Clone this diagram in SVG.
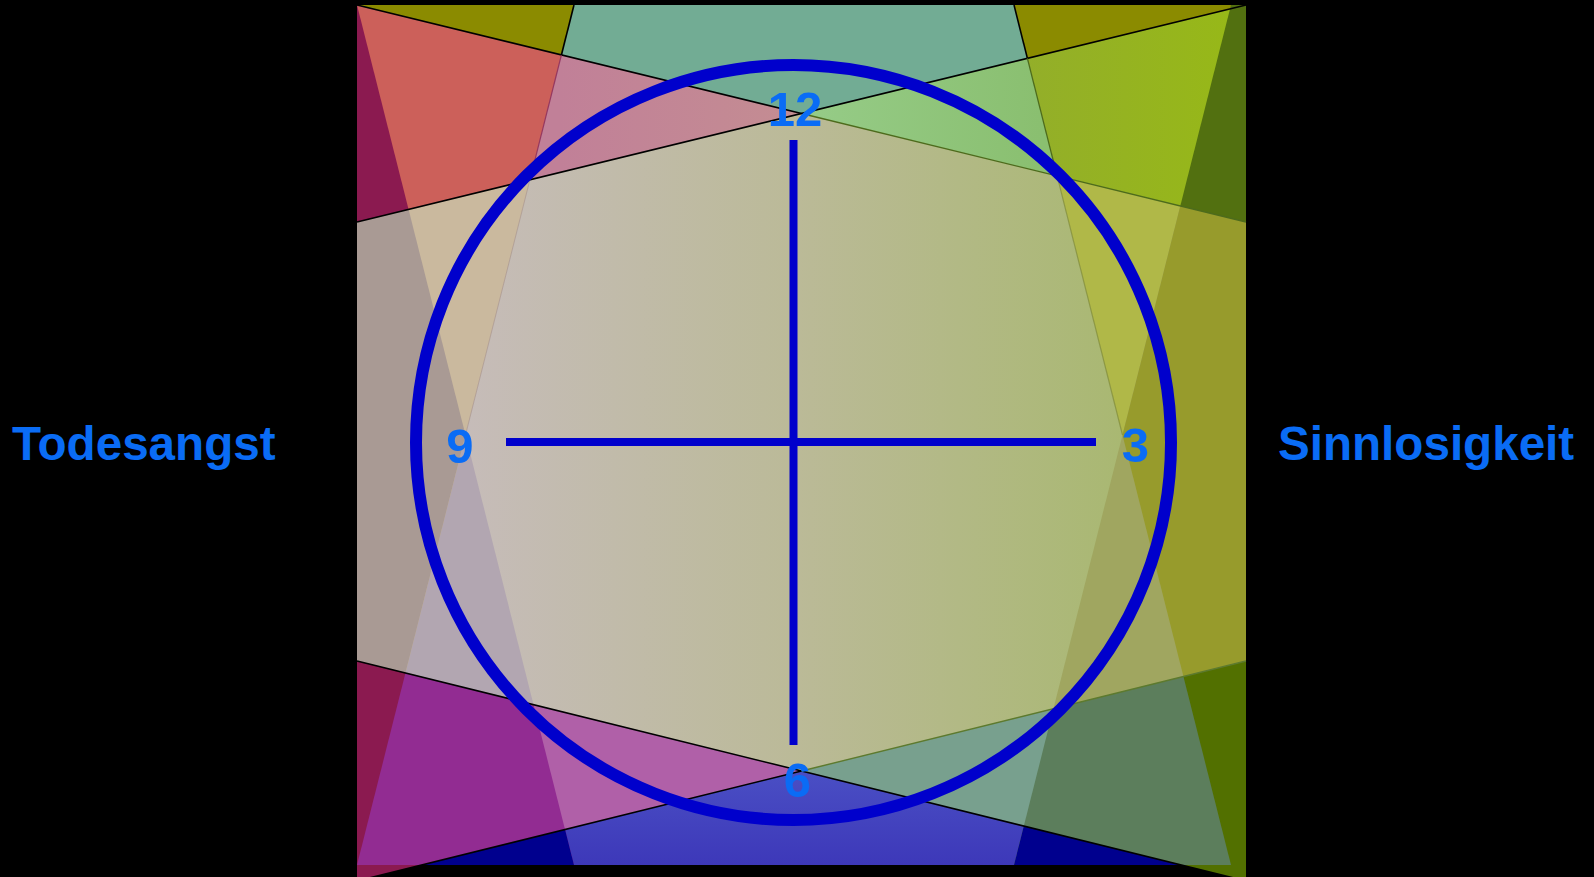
<svg xmlns="http://www.w3.org/2000/svg" width="1594" height="877" viewBox="0 0 1594 877">
<style>
.lbl{font-family:"Liberation Sans",Arial,sans-serif;font-weight:bold;fill:#0a6cf5}
.blk{stroke:#000;stroke-width:1.6;fill:none}
.clk{stroke:#0000cc;fill:none}
</style>
<defs>
<linearGradient id="gBg" gradientUnits="userSpaceOnUse" x1="465" y1="0" x2="1122" y2="0">
<stop offset="0" stop-color="#c6bcb9"/><stop offset="0.5" stop-color="#bbba98"/><stop offset="1" stop-color="#a9b872"/>
</linearGradient>
<linearGradient id="gPink" gradientUnits="userSpaceOnUse" x1="560" y1="0" x2="800" y2="0">
<stop offset="0" stop-color="#c18098"/><stop offset="1" stop-color="#c48d92"/>
</linearGradient>
<linearGradient id="gGreen" gradientUnits="userSpaceOnUse" x1="800" y1="0" x2="1040" y2="0">
<stop offset="0" stop-color="#96cc88"/><stop offset="1" stop-color="#8abf70"/>
</linearGradient>
<linearGradient id="gYg" gradientUnits="userSpaceOnUse" x1="1020" y1="0" x2="1230" y2="0">
<stop offset="0" stop-color="#93ae2a"/><stop offset="1" stop-color="#97b818"/>
</linearGradient>
<linearGradient id="gBlue" gradientUnits="userSpaceOnUse" x1="0" y1="771" x2="0" y2="865">
<stop offset="0" stop-color="#4a4fc4"/><stop offset="1" stop-color="#3d38b9"/>
</linearGradient>
<clipPath id="cBg"><rect x="357" y="5" width="889" height="860"/></clipPath>
<clipPath id="c9a"><polygon points="357,5 574,865 357,865"/></clipPath>
<clipPath id="c9b"><polygon points="357,5 574,5 357,865"/></clipPath>
<clipPath id="c3a"><polygon points="1014,5 1246,5 1246,865 1231,865"/></clipPath>
<clipPath id="c3b"><polygon points="1231,5 1246,5 1246,865 1014,865"/></clipPath>
<clipPath id="c12a"><polygon points="357,5 1246,5 1246,222"/></clipPath>
<clipPath id="c12b"><polygon points="357,5 1246,5 357,222"/></clipPath>
<clipPath id="c6a"><polygon points="357,661 1246,881 357,881"/></clipPath>
<clipPath id="c6b"><polygon points="357,881 1246,661 1246,881"/></clipPath>
</defs>
<rect x="0" y="0" width="1594" height="877" fill="#000"/>
<g id="field" clip-path="url(#cBg)">
<rect x="357" y="5" width="889" height="860" fill="url(#gBg)"/>
<polygon points="357,5 574,865 357,865" fill="#b2a6b1"/>
<polygon points="357,5 574,5 357,865" fill="#cab99e"/>
<polygon points="1014,5 1246,5 1246,865 1231,865" fill="#b0b848"/>
<polygon points="1231,5 1246,5 1246,865 1014,865" fill="#a0a660"/>
<polygon points="357,5 1246,5 1246,222" fill="url(#gGreen)"/>
<polygon points="357,5 1246,5 357,222" fill="url(#gPink)"/>
<polygon points="357,661 1246,881 357,881" fill="#b060a8"/>
<polygon points="357,881 1246,661 1246,881" fill="#78a08e"/>
<polygon points="357,5 574,865 357,865" clip-path="url(#c9b)" fill="#a99a94"/>
<polygon points="1014,5 1246,5 1246,865 1231,865" clip-path="url(#c3b)" fill="#979b2c"/>
<polygon points="357,5 1246,5 1246,222" clip-path="url(#c12b)" fill="#72ac94"/>
<polygon points="357,661 1246,881 357,881" clip-path="url(#c6b)" fill="url(#gBlue)"/>
<polygon points="357,5 574,5 357,865" clip-path="url(#c12b)" fill="#cc605a"/>
<polygon points="1014,5 1246,5 1246,865 1231,865" clip-path="url(#c12a)" fill="url(#gYg)"/>
<polygon points="357,5 574,865 357,865" clip-path="url(#c6a)" fill="#922c92"/>
<polygon points="1231,5 1246,5 1246,865 1014,865" clip-path="url(#c6b)" fill="#5c7e5c"/>
<polygon points="357,5 574,865 357,865" clip-path="url(#c12b)" fill="#8b1a50"/>
<polygon points="357,5 574,5 357,865" clip-path="url(#c12a)" fill="#8b8b00"/>
<polygon points="1231,5 1246,5 1246,865 1014,865" clip-path="url(#c12a)" fill="#527010"/>
<polygon points="1014,5 1246,5 1246,865 1231,865" clip-path="url(#c12b)" fill="#8b8b00"/>
<polygon points="357,5 574,5 357,865" clip-path="url(#c6a)" fill="#8b1a50"/>
<polygon points="357,5 574,865 357,865" clip-path="url(#c6b)" fill="#00008e"/>
<polygon points="1014,5 1246,5 1246,865 1231,865" clip-path="url(#c6b)" fill="#527000"/>
<polygon points="1231,5 1246,5 1246,865 1014,865" clip-path="url(#c6a)" fill="#00008e"/>
<polygon points="1231,5 1246,5 1246,865 1014,865" clip-path="url(#c12b)" fill="#527010"/>
</g>
<g id="corners">
<polygon points="357,865 421.6,865 357,881" fill="#8b1a50"/>
<polygon points="1181.2,865 1246,865 1246,881" fill="#527000"/>
</g>
<g id="connectors">
<path class="blk" d="M357,5 L801.5,113.5"/>
<path d="M801.5,113.5 L1246,222" stroke="#4d6b1c" stroke-width="1.4" fill="none"/>
<path class="blk" d="M357,222 L1246,5"/>
<path class="blk" d="M357,661 L1246,881"/>
<path class="blk" d="M357,881 L801.5,771"/>
<path d="M801.5,771 L1246,661" stroke="#5d7a2e" stroke-width="1.4" fill="none"/>
<path class="blk" d="M574,5 L561.4,55"/>
<path d="M561.4,55 L529.9,179.8" stroke="#8a2a5a" stroke-opacity="0.8" stroke-width="1.2" fill="none"/>
<path d="M529.9,179.8 L465.5,435" stroke="#a08a88" stroke-opacity="0.5" stroke-width="1" fill="none"/>
<path class="blk" d="M1014,5 L1027.4,58.4"/>
<path d="M1027.4,58.4 L1057.1,175.9" stroke="#4d6b1c" stroke-width="1.3" fill="none"/>
<path d="M1057.1,175.9 L1122.5,435" stroke="#7f8a3a" stroke-opacity="0.7" stroke-width="1.2" fill="none"/>
</g>
<g id="clock">
<circle class="clk" cx="793.5" cy="442.5" r="377.5" stroke-width="12"/>
<line class="clk" x1="793.5" y1="140" x2="793.5" y2="745" stroke-width="8"/>
<line class="clk" x1="506" y1="442" x2="1096" y2="442" stroke-width="8"/>
</g>
<g id="numbers">
<text class="lbl" x="795" y="126" font-size="49" text-anchor="middle">12</text>
<text class="lbl" x="460" y="463" font-size="49" text-anchor="middle">9</text>
<text class="lbl" x="1135.5" y="462" font-size="49" text-anchor="middle">3</text>
<text class="lbl" x="797.5" y="797" font-size="49" text-anchor="middle">6</text>
</g>
<g id="label-todesangst"><text class="lbl" x="12" y="460" font-size="47.6">Todesangst</text></g>
<g id="label-sinnlosigkeit"><text class="lbl" x="1278" y="460" font-size="47.6">Sinnlosigkeit</text></g>
</svg>
